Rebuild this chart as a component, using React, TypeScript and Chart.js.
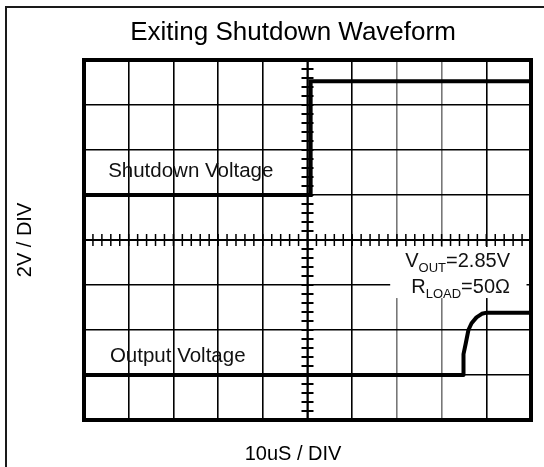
import React, { useEffect, useRef } from 'react';
import { Chart, registerables } from 'chart.js';

Chart.register(...registerables);

const FONT = "'Liberation Sans', Arial, Helvetica, sans-serif";

// ---- text ----
const chartTitle = 'Exiting Shutdown Waveform';
const xAxisLabel = '10uS / DIV';
const yAxisLabel = '2V / DIV';
const traceLabels = ['Shutdown Voltage', 'Output Voltage'];

// ---- scale (oscilloscope graticule: 10 x 8 divisions) ----
const timeMin = -50; // µs
const timeMax = 50;
const timePerDiv = 10;
const timeMinor = 2;
const voltMin = -8; // V
const voltMax = 8;
const voltPerDiv = 2;
const voltMinor = 0.4;

// ---- traces (time in µs, level in V on the graticule) ----
const shutdownTimes = [-50, 0.7, 0.7, 50];
const shutdownVolts = [2.0, 2.0, 7.06, 7.06];

const outputTimes = [-50, 34.9, 34.9, 35.4, 36.0, 36.7, 37.8, 39.0, 40.1, 50];
const outputVolts = [-6.0, -6.0, -5.07, -4.6, -4.0, -3.7, -3.44, -3.28, -3.23, -3.23];

const toPoints = (xs: number[], ys: number[]) => xs.map((x, i) => ({ x, y: ys[i] }));

function drawSubText(
  ctx: CanvasRenderingContext2D,
  parts: [string, boolean][],
  rightX: number,
  baseline: number,
  subDrop: number
) {
  const big = `20px ${FONT}`;
  const small = `13px ${FONT}`;
  let total = 0;
  const widths = parts.map(([t, sub]) => {
    ctx.font = sub ? small : big;
    const w = ctx.measureText(t).width;
    total += w;
    return w;
  });
  let x = rightX - total;
  parts.forEach(([t, sub], i) => {
    ctx.font = sub ? small : big;
    ctx.fillText(t, x, sub ? baseline + subDrop : baseline);
    x += widths[i];
  });
}

const scopePlugin = {
  id: 'scopeDecor',
  beforeDraw(chart: any) {
    const { ctx, width, height } = chart;
    ctx.save();
    ctx.fillStyle = '#fff';
    ctx.fillRect(0, 0, width, height);
    ctx.strokeStyle = '#1a1a1a';
    ctx.lineWidth = 2;
    ctx.beginPath();
    ctx.moveTo(6, height);
    ctx.lineTo(6, 7);
    ctx.lineTo(width, 7);
    ctx.stroke();
    ctx.restore();
  },
  beforeDatasetsDraw(chart: any) {
    const { ctx, chartArea: a } = chart;
    const xs = chart.scales.x;
    const ys = chart.scales.y;
    ctx.save();

    // white box behind the Vout / Rload note
    const mx0 = xs.getPixelForValue(18.5);
    const mx1 = xs.getPixelForValue(49);
    const my0 = ys.getPixelForValue(-0.31);
    const my1 = ys.getPixelForValue(-2.58);
    ctx.fillStyle = '#fff';
    ctx.fillRect(mx0, my0, mx1 - mx0, my1 - my0);

    // centre axes
    const x0 = xs.getPixelForValue(0);
    const y0 = ys.getPixelForValue(0);
    ctx.strokeStyle = '#000';
    ctx.lineWidth = 2;
    ctx.beginPath();
    ctx.moveTo(a.left, y0);
    ctx.lineTo(a.right, y0);
    ctx.moveTo(x0, a.top);
    ctx.lineTo(x0, a.bottom);
    ctx.stroke();

    // minor ticks on horizontal axis
    ctx.lineWidth = 1.5;
    ctx.beginPath();
    const nT = Math.round((timeMax - timeMin) / timeMinor);
    for (let i = 0; i <= nT; i++) {
      const px = xs.getPixelForValue(timeMin + i * timeMinor);
      ctx.moveTo(px, y0 - 6);
      ctx.lineTo(px, y0 + 6);
    }
    ctx.stroke();

    // minor ticks on vertical axis
    ctx.lineWidth = 2;
    ctx.beginPath();
    const nV = Math.round((voltMax - voltMin) / voltMinor);
    for (let i = 0; i <= nV; i++) {
      const py = ys.getPixelForValue(voltMin + i * voltMinor);
      ctx.moveTo(x0 - 6, py);
      ctx.lineTo(x0 + 6, py);
    }
    ctx.stroke();

    // trace labels
    ctx.fillStyle = '#111';
    ctx.textAlign = 'left';
    ctx.textBaseline = 'alphabetic';
    ctx.font = `20.5px ${FONT}`;
    ctx.fillText(traceLabels[0], xs.getPixelForValue(-44.6), ys.getPixelForValue(2.79));
    ctx.fillText(traceLabels[1], xs.getPixelForValue(-44.2), ys.getPixelForValue(-5.41));

    const rx = xs.getPixelForValue(45.3);
    drawSubText(ctx, [['V', false], ['OUT', true], ['=2.85V', false]], rx, ys.getPixelForValue(-1.21), 4.5);
    drawSubText(ctx, [['R', false], ['LOAD', true], ['=50\u03A9', false]], rx, ys.getPixelForValue(-2.34), 5.5);

    ctx.restore();
  },
  afterDatasetsDraw(chart: any) {
    const { ctx, chartArea: a } = chart;
    ctx.save();
    ctx.strokeStyle = '#000';
    ctx.lineWidth = 4;
    ctx.strokeRect(a.left, a.top, a.right - a.left, a.bottom - a.top);
    ctx.restore();
  },
};

export default function App() {
  const ref = useRef<HTMLCanvasElement>(null);

  useEffect(() => {
    document.body.style.margin = '0';
    const canvas = ref.current;
    if (!canvas) return;
    const chart = new Chart(canvas, {
      type: 'scatter',
      data: {
        datasets: [
          {
            label: traceLabels[0],
            data: toPoints(shutdownTimes, shutdownVolts),
            showLine: true,
            borderColor: '#000',
            borderWidth: 4,
            pointRadius: 0,
            tension: 0,
            borderJoinStyle: 'miter',
          },
          {
            label: traceLabels[1],
            data: toPoints(outputTimes, outputVolts),
            showLine: true,
            borderColor: '#000',
            borderWidth: 4,
            pointRadius: 0,
            tension: 0,
            borderJoinStyle: 'round',
          },
        ],
      },
      options: {
        animation: false,
        responsive: false,
        events: [],
        layout: { padding: { left: 55, right: 13, top: 0, bottom: 0 } },
        plugins: {
          legend: { display: false },
          tooltip: { enabled: false },
          title: {
            display: true,
            text: chartTitle,
            color: '#000',
            font: { size: 26, family: FONT, weight: 'normal' },
            padding: { top: 17.4, bottom: 11.4 },
          },
          subtitle: {
            display: true,
            text: xAxisLabel,
            position: 'bottom',
            color: '#000',
            font: { size: 20, family: FONT, weight: 'normal' },
            padding: { top: 22, bottom: 1 },
          },
        },
        scales: {
          x: {
            type: 'linear',
            position: 'bottom',
            min: timeMin,
            max: timeMax,
            ticks: { display: false, stepSize: timePerDiv },
            grid: {
              drawTicks: false,
              lineWidth: 1.6,
              color: (c: any) =>
                c.tick && (c.tick.value === 20 || c.tick.value === 30) ? '#777' : '#000',
            },
            border: { display: false },
            title: { display: false },
            afterFit: (s: any) => {
              s.height = 0;
            },
          },
          y: {
            type: 'linear',
            position: 'left',
            min: voltMin,
            max: voltMax,
            ticks: { display: false, stepSize: voltPerDiv },
            grid: { drawTicks: false, lineWidth: 1.6, color: '#000' },
            border: { display: false },
            title: {
              display: true,
              text: yAxisLabel,
              color: '#000',
              font: { size: 20, family: FONT },
              padding: { top: -42, bottom: 0 },
            },
            afterFit: (s: any) => {
              s.width = 29;
            },
          },
        },
      } as any,
      plugins: [scopePlugin],
    });
    return () => chart.destroy();
  }, []);

  return (
    <div style={{ width: 544, height: 467 }}>
      <canvas ref={ref} width={544} height={467} style={{ display: 'block' }} />
    </div>
  );
}
